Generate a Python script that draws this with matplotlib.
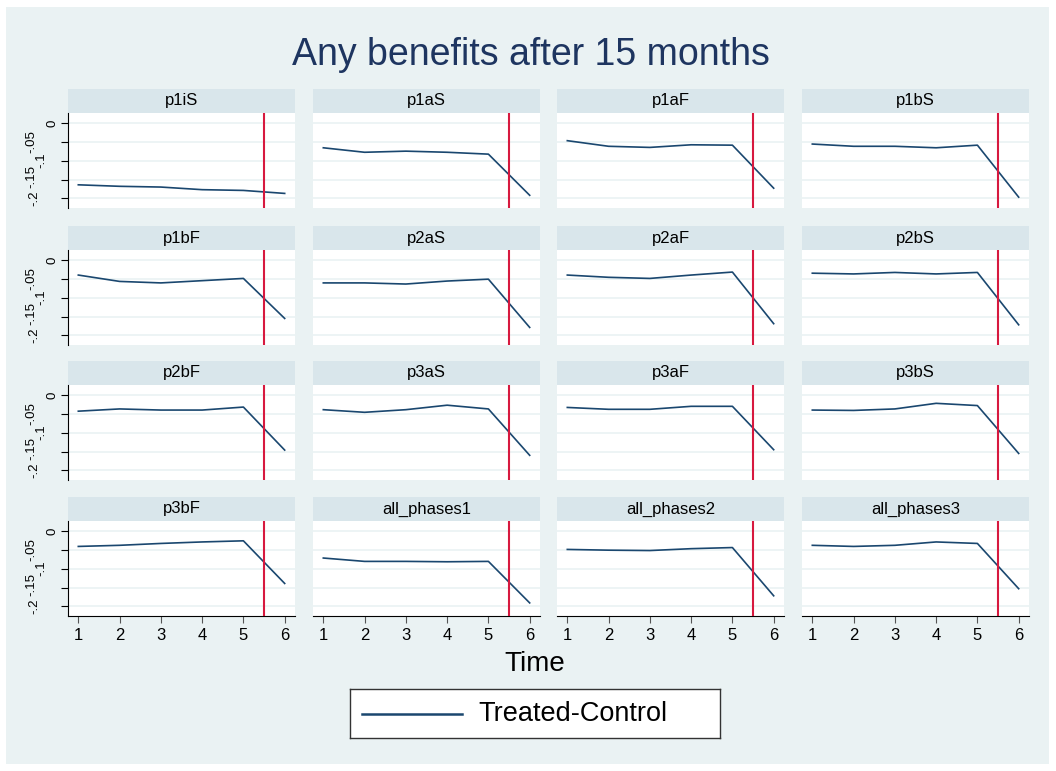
import matplotlib
matplotlib.use("Agg")
import matplotlib.pyplot as plt
from matplotlib.patches import Rectangle
from matplotlib.lines import Line2D
from matplotlib.transforms import ScaledTranslation

plt.rcParams['font.family'] = ['Liberation Sans', 'DejaVu Sans']

time = [1, 2, 3, 4, 5, 6]
names = ["p1iS", "p1aS", "p1aF", "p1bS",
         "p1bF", "p2aS", "p2aF", "p2bS",
         "p2bF", "p3aS", "p3aF", "p3bS",
         "p3bF", "all_phases1", "all_phases2", "all_phases3"]
diffs = [
    [-0.164, -0.168, -0.170, -0.177, -0.179, -0.187],
    [-0.065, -0.077, -0.074, -0.077, -0.082, -0.192],
    [-0.046, -0.061, -0.064, -0.057, -0.058, -0.173],
    [-0.055, -0.061, -0.061, -0.065, -0.058, -0.197],
    [-0.039, -0.056, -0.060, -0.054, -0.048, -0.155],
    [-0.060, -0.060, -0.063, -0.055, -0.050, -0.179],
    [-0.039, -0.045, -0.048, -0.039, -0.031, -0.169],
    [-0.034, -0.036, -0.032, -0.036, -0.032, -0.172],
    [-0.042, -0.036, -0.039, -0.039, -0.031, -0.146],
    [-0.038, -0.045, -0.038, -0.026, -0.036, -0.160],
    [-0.032, -0.037, -0.037, -0.029, -0.029, -0.145],
    [-0.039, -0.040, -0.036, -0.021, -0.027, -0.155],
    [-0.040, -0.037, -0.032, -0.028, -0.025, -0.139],
    [-0.071, -0.080, -0.080, -0.081, -0.080, -0.191],
    [-0.048, -0.050, -0.051, -0.046, -0.043, -0.172],
    [-0.037, -0.040, -0.037, -0.028, -0.032, -0.153],
]
yticks = [0, -0.05, -0.1, -0.15, -0.2]
ylabels = ["0", "-.05", "-.1", "-.15", "-.2"]
# the rotated y labels sit staggered left of the axis (pixel offsets)
ylab_dx = [-16, -37, -27, -37, -34]
ylab_dy = [0, 1, 1, 3, 0]
cutoff = 5.5

W, H = 1056, 771
bg = "#eaf2f3"
strip_col = "#d9e6eb"
navy = "#1a476f"
red = "#d7193f"

fig = plt.figure(figsize=(W / 100, H / 100), dpi=100)
fig.patch.set_facecolor("white")
fig.add_artist(Rectangle((6 / W, 1 - 764 / H), 1043 / W, 757 / H,
                         transform=fig.transFigure, facecolor=bg,
                         edgecolor="none", zorder=0))


def box(x, y, w, h):
    # pixel box (top-left origin) -> figure fraction
    return [x / W, 1 - (y + h) / H, w / W, h / H]


col_x = [68, 313, 557, 802]
row_y = [89, 226, 361, 497]
pw, sh, ph = 227, 24, 95

for i, name in enumerate(names):
    r, c = divmod(i, 4)
    x0, y0 = col_x[c], row_y[r]
    sax = fig.add_axes(box(x0, y0, pw, sh))
    sax.set_facecolor(strip_col)
    sax.set_xticks([])
    sax.set_yticks([])
    for s in sax.spines.values():
        s.set_visible(False)
    sax.text(0.5, 0.5, name, ha="center", va="center", fontsize=12)

    ax = fig.add_axes(box(x0, y0 + sh, pw, ph))
    ax.set_facecolor("white")
    ax.set_xlim(0.75, 6.25)
    ax.set_ylim(-0.226, 0.028)
    ax.set_yticks(yticks)
    for yt in yticks:
        ax.axhline(yt, color=bg, lw=1.2, zorder=1)
    ax.plot(time, diffs[i], color=navy, lw=1.2, zorder=3)
    ax.axvline(cutoff, color=red, lw=1.5, zorder=4)
    for s in ["top", "right"]:
        ax.spines[s].set_visible(False)
    ax.spines["left"].set_visible(c == 0)
    ax.spines["bottom"].set_visible(r == 3)
    ax.set_xticks(time)
    ax.tick_params(axis="y", labelleft=False)
    if c == 0:
        ax.tick_params(axis="y", length=5, width=0.8)
        for yt, lab, dx, dy in zip(yticks, ylabels, ylab_dx, ylab_dy):
            tr = ax.transData + ScaledTranslation(dx / 100, dy / 100,
                                                  fig.dpi_scale_trans)
            ax.text(0.75, yt, lab, transform=tr, rotation=90, ha="center",
                    va="center", fontsize=9.5, clip_on=False)
    else:
        ax.tick_params(axis="y", length=0)
    if r == 3:
        ax.tick_params(axis="x", length=5, width=0.8, labelsize=12,
                       color="#555555", pad=4)
    else:
        ax.tick_params(axis="x", length=0, labelbottom=False)

fig.text(531 / W, 1 - 55 / H, "Any benefits after 15 months", ha="center",
         va="center", fontsize=27, color="#1e3560")
fig.text(535 / W, 1 - 664 / H, "Time", ha="center", va="center", fontsize=20)

lax = fig.add_axes(box(350, 689, 370, 49))
lax.set_xlim(350, 720)
lax.set_ylim(738, 689)
lax.set_xticks([])
lax.set_yticks([])
lax.set_facecolor("white")
for s in lax.spines.values():
    s.set_color("#333333")
    s.set_linewidth(1)
lax.add_line(Line2D([362, 462], [714, 714], color=navy, lw=1.8))
lax.text(478, 714, "Treated-Control", ha="left", va="center", fontsize=19.5)

fig.savefig("out.png", dpi=100, facecolor=fig.get_facecolor())
